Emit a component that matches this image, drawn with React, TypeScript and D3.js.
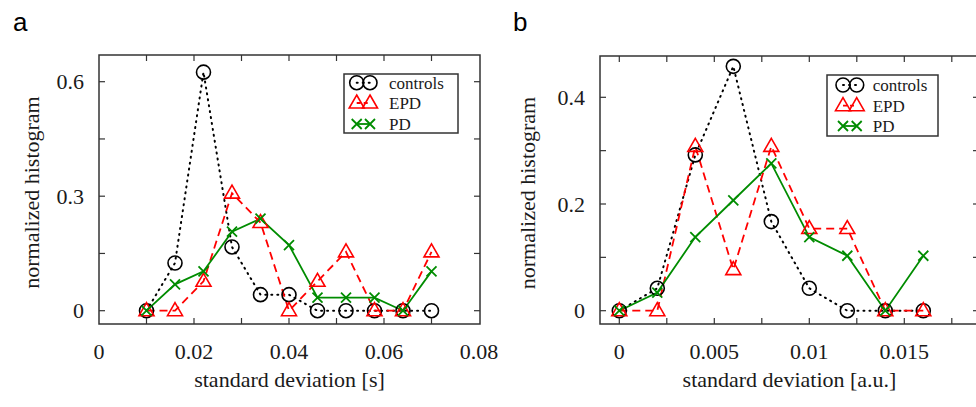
import React from "react";
import * as d3 from "d3";

// ---- data (panel a) ----
const xA = [0.01, 0.016, 0.022, 0.028, 0.034, 0.04, 0.046, 0.052, 0.058, 0.064, 0.07];
const controlsA = [0, 0.125, 0.625, 0.167, 0.042, 0.042, 0, 0, 0, 0, 0];
const epdA = [0, 0, 0.077, 0.308, 0.231, 0, 0.077, 0.154, 0, 0, 0.154];
const pdA = [0, 0.069, 0.103, 0.207, 0.241, 0.172, 0.034, 0.034, 0.034, 0, 0.103];
const xTickLabelsA = [0, 0.02, 0.04, 0.06, 0.08];
const xTicksA = [0.01, 0.02, 0.03, 0.04, 0.05, 0.06, 0.07];
const yTicksA = [0, 0.15, 0.3, 0.45, 0.6];
const yTickLabelsA = [0, 0.3, 0.6];

// ---- data (panel b) ----
const xB = [0, 0.002, 0.004, 0.006, 0.008, 0.01, 0.012, 0.014, 0.016];
const controlsB = [0, 0.042, 0.292, 0.458, 0.167, 0.042, 0, 0, 0];
const epdB = [0, 0, 0.308, 0.077, 0.308, 0.154, 0.154, 0, 0];
const pdB = [0, 0.034, 0.138, 0.207, 0.276, 0.138, 0.103, 0, 0.103];
const xTickLabelsB = [0, 0.005, 0.01, 0.015];
const xTicksB = [0, 0.0025, 0.005, 0.0075, 0.01, 0.0125, 0.015, 0.0175];
const yTicksB = [0, 0.1, 0.2, 0.3, 0.4];
const yTickLabelsB = [0, 0.2, 0.4];

const seriesNames = ["controls", "EPD", "PD"];

const SERIF = "'Liberation Serif', 'Times New Roman', serif";
const SANS = "'Liberation Sans', Arial, sans-serif";
const FRAME = "#333";
const TEXT = "#1a1a1a";
const RED = "#ff0000";
const GREEN = "#008c00";

const styles = [
  { color: "#000", dash: "1,5", cap: "round", width: 2 },
  { color: RED, dash: "8,5", cap: "butt", width: 1.8 },
  { color: GREEN, dash: "none", cap: "butt", width: 1.8 },
];

function Marker({ kind, x, y }: { kind: number; x: number; y: number }) {
  if (kind === 0)
    return <circle cx={x} cy={y} r={7} fill="none" stroke="#000" strokeWidth={1.6} />;
  if (kind === 1)
    return (
      <path
        d={`M${x},${y - 8}L${x + 7.5},${y + 5}L${x - 7.5},${y + 5}Z`}
        fill="none"
        stroke={RED}
        strokeWidth={1.6}
      />
    );
  return (
    <path
      d={`M${x - 5},${y - 5}L${x + 5},${y + 5}M${x - 5},${y + 5}L${x + 5},${y - 5}`}
      stroke={GREEN}
      strokeWidth={1.8}
    />
  );
}

type PanelProps = {
  letter: string;
  letterX: number;
  left: number;
  right: number;
  top: number;
  bottom: number;
  xDomain: [number, number];
  xRange: [number, number];
  yDomain: [number, number];
  yRange: [number, number];
  xs: number[];
  series: number[][];
  xTicks: number[];
  xTickLabels: number[];
  yTicks: number[];
  yTickLabels: number[];
  xLabel: string;
  yLabelX: number;
  legend: { x0: number; x1: number; y0: number; y1: number; m1: number; m2: number; tx: number; rows: number[] };
};

function Panel(p: PanelProps) {
  const x = d3.scaleLinear().domain(p.xDomain).range(p.xRange);
  const y = d3.scaleLinear().domain(p.yDomain).range(p.yRange);
  const line = d3
    .line<number>()
    .x((_, i) => x(p.xs[i]))
    .y((v) => y(v));
  const tl = 6;
  const fmt = (v: number) => String(v);
  const cx = (p.left + p.right) / 2;
  const cy = (p.top + p.bottom) / 2;
  return (
    <g>
      <text x={p.letterX} y={31} fontFamily={SANS} fontSize={26} fill="#000">
        {p.letter}
      </text>
      {p.series.map((s, k) => (
        <path
          key={"l" + k}
          d={line(s) || ""}
          fill="none"
          stroke={styles[k].color}
          strokeWidth={styles[k].width}
          strokeDasharray={styles[k].dash}
          strokeLinecap={styles[k].cap as any}
        />
      ))}
      {p.series.map((s, k) => (
        <g key={"m" + k}>
          {s.map((v, i) => (
            <Marker key={i} kind={k} x={x(p.xs[i])} y={y(v)} />
          ))}
        </g>
      ))}
      <rect
        x={p.left}
        y={p.top}
        width={p.right - p.left}
        height={p.bottom - p.top}
        fill="none"
        stroke={FRAME}
        strokeWidth={1.5}
      />
      {p.xTicks.map((t) => (
        <g key={"xt" + t}>
          <line x1={x(t)} x2={x(t)} y1={p.bottom} y2={p.bottom - tl} stroke={FRAME} strokeWidth={1.2} />
          <line x1={x(t)} x2={x(t)} y1={p.top} y2={p.top + tl} stroke={FRAME} strokeWidth={1.2} />
        </g>
      ))}
      {p.yTicks.map((t) => (
        <g key={"yt" + t}>
          <line x1={p.left} x2={p.left + tl} y1={y(t)} y2={y(t)} stroke={FRAME} strokeWidth={1.2} />
          <line x1={p.right} x2={p.right - tl} y1={y(t)} y2={y(t)} stroke={FRAME} strokeWidth={1.2} />
        </g>
      ))}
      {p.xTickLabels.map((t) => (
        <text key={"xl" + t} x={x(t)} y={359} textAnchor="middle" fontFamily={SERIF} fontSize={22} fill={TEXT}>
          {fmt(t)}
        </text>
      ))}
      {p.yTickLabels.map((t) => (
        <text key={"yl" + t} x={p.left - 15} y={y(t) + 7.5} textAnchor="end" fontFamily={SERIF} fontSize={22} fill={TEXT}>
          {fmt(t)}
        </text>
      ))}
      <text x={cx} y={387} textAnchor="middle" fontFamily={SERIF} fontSize={22} fill={TEXT}>
        {p.xLabel}
      </text>
      <text
        transform={`translate(${p.yLabelX},${cy + 3}) rotate(-90)`}
        textAnchor="middle"
        fontFamily={SERIF}
        fontSize={22}
        fill={TEXT}
      >
        normalized histogram
      </text>
      <rect
        x={p.legend.x0}
        y={p.legend.y0}
        width={p.legend.x1 - p.legend.x0}
        height={p.legend.y1 - p.legend.y0}
        fill="#fff"
        stroke={FRAME}
        strokeWidth={1.5}
      />
      {seriesNames.map((name, k) => {
        const ry = p.legend.rows[k];
        return (
          <g key={"lg" + k}>
            <line
              x1={p.legend.m1}
              x2={p.legend.m2}
              y1={ry}
              y2={ry}
              stroke={styles[k].color}
              strokeWidth={styles[k].width}
              strokeDasharray={k === 0 ? "1,5" : k === 1 ? "4,3" : "none"}
              strokeLinecap={styles[k].cap as any}
            />
            <Marker kind={k} x={p.legend.m1} y={ry} />
            <Marker kind={k} x={p.legend.m2} y={ry} />
            <text x={p.legend.tx} y={ry + 6} fontFamily={SERIF} fontSize={17} fill={TEXT}>
              {name}
            </text>
          </g>
        );
      })}
    </g>
  );
}

export default function App() {
  return (
    <svg
      width={976}
      height={407}
      style={{ position: "absolute", left: 0, top: 0, background: "#fff" }}
    >
      <rect width={976} height={407} fill="#fff" />
      <Panel
        letter="a"
        letterX={13}
        left={99}
        right={480}
        top={55}
        bottom={324}
        xDomain={[0, 0.08]}
        xRange={[99, 479]}
        yDomain={[0, 0.6]}
        yRange={[310.7, 81.7]}
        xs={xA}
        series={[controlsA, epdA, pdA]}
        xTicks={xTicksA}
        xTickLabels={xTickLabelsA}
        yTicks={yTicksA}
        yTickLabels={yTickLabelsA}
        xLabel="standard deviation [s]"
        yLabelX={39}
        legend={{ x0: 344, x1: 458, y0: 74, y1: 133, m1: 356.7, m2: 370, tx: 389, rows: [82.7, 103, 124] }}
      />
      <Panel
        letter="b"
        letterX={513}
        left={600}
        right={979}
        top={56}
        bottom={324}
        xDomain={[0, 0.015]}
        xRange={[619.3, 904.3]}
        yDomain={[0, 0.4]}
        yRange={[310.7, 97.3]}
        xs={xB}
        series={[controlsB, epdB, pdB]}
        xTicks={xTicksB}
        xTickLabels={xTickLabelsB}
        yTicks={yTicksB}
        yTickLabels={yTickLabelsB}
        xLabel="standard deviation [a.u.]"
        yLabelX={535}
        legend={{ x0: 827, x1: 938, y0: 75, y1: 136, m1: 843, m2: 856.7, tx: 872.7, rows: [85, 105.7, 126] }}
      />
    </svg>
  );
}
